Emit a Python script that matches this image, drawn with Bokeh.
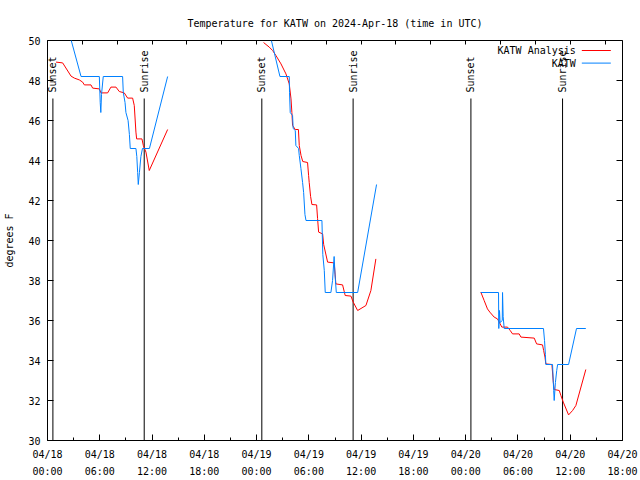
import math
from bokeh.plotting import figure, ColumnDataSource
from bokeh.models import Range1d, FixedTicker, LinearAxis, Label, Arrow
from bokeh.core.properties import value
from bokeh.embed import file_html
from bokeh.resources import INLINE

nan = float("nan")
FONT = "DejaVu Sans Mono"

# time axis: hours since 2024-04-18 00:00 UTC; NaN separates the daily pieces
analysis_hours = [0.98, 1.74, 2.70, 3.08, 3.65, 4.03, 4.23, 4.99, 5.18, 5.95, 6.14, 6.90,
                  7.28, 7.86, 8.24, 8.81, 9.20, 9.77, 9.96, 10.15, 10.23, 10.84, 11.00,
                  11.30, 11.68, 13.79, nan,
                  24.80, 25.45, 25.84, 26.22, 26.80, 27.37, 27.75, 27.95, 28.05, 28.13,
                  28.44, 28.80, 28.90, 29.10, 29.30, 29.85, 29.97, 30.04, 30.20, 30.35,
                  30.89, 31.00, 31.12, 31.58, 31.70, 32.15, 32.91, 33.10, 33.87, 34.17,
                  34.83, 35.09, 35.60, 36.55, 37.12, 37.69, nan,
                  49.74, 50.12, 50.50, 50.77, 51.27, 51.65, 51.85, 52.15, 52.80, 53.11,
                  53.38, 54.14, 54.34, 55.87, 56.14, 56.82, 56.95, 57.10, 57.20, 57.90,
                  58.06, 58.17, 58.74, 58.93, 59.20, 59.81, 60.27, 60.65, 61.79]
analysis_temps = [48.92, 48.88, 48.22, 48.12, 48.03, 47.92, 47.78, 47.78, 47.62, 47.58, 47.38, 47.38,
                  47.67, 47.67, 47.45, 47.38, 47.12, 47.12, 46.75, 45.42, 45.08, 45.08, 44.75,
                  44.42, 43.50, 45.55, nan,
                  49.90, 49.67, 49.50, 49.25, 48.83, 48.33, 47.83, 47.08, 46.40, 45.75,
                  45.55, 45.55, 44.75, 44.25, 43.95, 43.90, 43.25, 42.90, 42.20, 41.80,
                  41.78, 41.10, 40.42, 40.33, 39.80, 38.92, 38.88, 37.83, 37.78, 37.25,
                  37.22, 36.92, 36.50, 36.75, 37.50, 39.08, nan,
                  37.42, 37.00, 36.58, 36.42, 36.17, 36.08, 35.92, 35.67, 35.67, 35.50,
                  35.33, 35.33, 35.17, 35.12, 34.83, 34.78, 34.50, 34.17, 33.83, 33.80,
                  32.90, 32.55, 32.50, 32.25, 31.92, 31.28, 31.50, 31.75, 33.55]

obs_hours = [1.60, 3.85, 5.95, 6.05, 6.12, 6.20, 6.40, 8.62, 8.70, 8.90, 9.00, 9.25, 9.40,
             9.50, 10.15, 10.25, 10.35, 10.42, 10.55, 10.72, 10.90, 11.70, 13.79, nan,
             25.70, 26.68, 27.75, 27.78, 27.86, 28.13, 28.20, 28.44, 28.51, 28.82, 28.90,
             29.09, 29.28, 29.40, 29.55, 29.67, 31.50, 31.60, 31.77, 31.88, 32.53, 32.72,
             32.90, 33.00, 33.15, 35.60, 37.77, nan,
             49.74, 51.77, 51.80, 51.88, 51.95, 52.20, 52.23, 52.30, 52.42, 56.93, 57.05,
             57.15, 57.20, 57.97, 58.05, 58.10, 58.16, 58.30, 58.45, 58.55, 59.81, 60.72,
             61.79]
obs_temps = [51.8, 48.2, 48.2, 46.9, 46.4, 47.3, 48.2, 48.2, 47.4, 46.9, 46.4, 46.0, 45.3,
             44.6, 44.6, 44.2, 43.4, 42.8, 43.4, 44.2, 44.6, 44.6, 48.2, nan,
             50.0, 48.2, 48.2, 47.4, 46.4, 46.25, 45.6, 45.5, 44.75, 44.6, 44.25,
             43.6, 42.9, 42.4, 41.3, 41.0, 41.0, 39.3, 38.5, 37.4, 37.4, 38.0,
             39.2, 38.3, 37.4, 37.4, 42.8, nan,
             37.4, 37.4, 35.6, 36.5, 35.9, 36.0, 37.4, 36.2, 35.6, 35.6, 35.0,
             34.3, 33.8, 33.8, 33.0, 32.5, 32.0, 32.9, 33.5, 33.8, 33.8, 35.6,
             35.6]

sun_hours = [0.62, 11.10, 24.60, 35.08, 48.60, 59.12]
sun_labels = ["Sunset", "Sunrise", "Sunset", "Sunrise", "Sunset", "Sunrise"]

tick_hours = [0, 6, 12, 18, 24, 30, 36, 42, 48, 54, 60, 66]
tick_dates = ["04/18", "04/18", "04/18", "04/18", "04/19", "04/19",
              "04/19", "04/19", "04/20", "04/20", "04/20", "04/20"]
tick_times = ["00:00", "06:00", "12:00", "18:00", "00:00", "06:00",
              "12:00", "18:00", "00:00", "06:00", "12:00", "18:00"]
temp_ticks = [30, 32, 34, 36, 38, 40, 42, 44, 46, 48, 50]

series_names = ["KATW Analysis", "KATW"]
series_colors = ["#ff0000", "#0080ff"]

p = figure(width=640, height=480, output_backend="svg", toolbar_location=None,
           x_range=Range1d(0, 66), y_range=Range1d(30, 50),
           min_border_left=47, min_border_right=18, min_border_top=40, min_border_bottom=40,
           y_axis_label="degrees F")
p.background_fill_color = "white"
p.border_fill_color = "white"
p.outline_line_color = "black"
p.outline_line_width = 1
p.xgrid.visible = False
p.ygrid.visible = False

p.title.text = "Temperature for KATW on 2024-Apr-18 (time in UTC)"
p.title.text_font = FONT
p.title.text_font_size = "10px"
p.title.text_font_style = "normal"
p.title.text_color = "black"
p.title.align = "center"
p.title.standoff = 24

def style_axis(ax, tick_in=6, minor_in=3):
    ax.axis_line_color = None
    ax.major_tick_in = tick_in
    ax.major_tick_out = 0
    ax.minor_tick_in = minor_in
    ax.minor_tick_out = 0
    ax.major_tick_line_color = "black"
    ax.minor_tick_line_color = "black"
    ax.major_label_text_font = FONT
    ax.major_label_text_font_size = "10px"
    ax.major_label_text_color = "black"

# bottom: date row
xa = p.xaxis[0]
style_axis(xa)
xa.ticker = FixedTicker(ticks=tick_hours, minor_ticks=[h for h in range(0, 67, 3)])
xa.major_label_overrides = {h: d for h, d in zip(tick_hours, tick_dates)}
xa.major_label_standoff = 8

# bottom: time row
xa2 = LinearAxis(ticker=FixedTicker(ticks=tick_hours, minor_ticks=[]))
style_axis(xa2, 0, 0)
xa2.major_tick_line_color = None
xa2.minor_tick_line_color = None
xa2.major_label_overrides = {h: t for h, t in zip(tick_hours, tick_times)}
xa2.major_label_standoff = 3
p.add_layout(xa2, "below")

# left
ya = p.yaxis[0]
style_axis(ya)
ya.ticker = FixedTicker(ticks=temp_ticks, minor_ticks=[])
ya.major_label_standoff = 7
ya.axis_label_text_font = FONT
ya.axis_label_text_font_size = "10px"
ya.axis_label_text_font_style = "normal"
ya.axis_label_text_color = "black"
ya.axis_label_standoff = 10

# right & top mirrored ticks (drawn as minor ticks, so no labels are produced)
ra = LinearAxis(ticker=FixedTicker(ticks=[], minor_ticks=temp_ticks))
style_axis(ra, 6, 6)
p.add_layout(ra, "right")

ta = LinearAxis(ticker=FixedTicker(ticks=[], minor_ticks=list(range(0, 67, 4))))
style_axis(ta, 4, 4)
p.add_layout(ta, "above")

# sunrise / sunset markers
sun_src = ColumnDataSource(dict(x=sun_hours, label=sun_labels,
                                y0=[30] * len(sun_hours), y1=[47.1] * len(sun_hours),
                                ty=[47.4] * len(sun_hours)))
p.segment(x0="x", y0="y0", x1="x", y1="y1", source=sun_src, line_color="black", line_width=1)
p.text(x="x", y="ty", text="label", source=sun_src, angle=math.pi / 2,
       text_align="left", text_baseline="middle", text_font=value(FONT),
       text_font_size="10px", text_color="black")

# series
p.line(analysis_hours, analysis_temps, line_color=series_colors[0], line_width=1)
p.line(obs_hours, obs_temps, line_color=series_colors[1], line_width=1)

# gnuplot-style key (text, then sample line)
key_y = [49.5, 48.87]
for name, color, ky in zip(series_names, series_colors, key_y):
    p.add_layout(Label(x=60.64, y=ky, text=name, text_align="right", text_baseline="middle",
                       text_font=FONT, text_font_size="10px", text_color="black"))
    p.add_layout(Arrow(end=None, x_start=61.33, y_start=ky, x_end=64.66, y_end=ky,
                       line_color=color, line_width=1))

open("out.html", "w").write(file_html(p, INLINE))
